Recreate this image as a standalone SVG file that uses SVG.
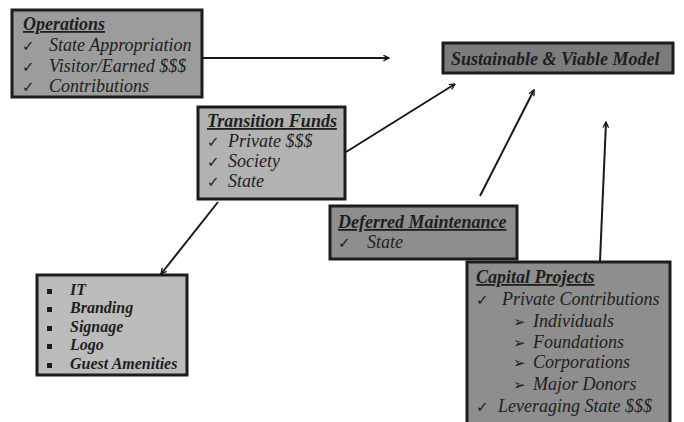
<svg xmlns="http://www.w3.org/2000/svg" width="684" height="422" viewBox="0 0 684 422">
<defs>
<marker id="ah" viewBox="0 0 10 10" refX="9" refY="5" markerWidth="7" markerHeight="7" orient="auto" markerUnits="userSpaceOnUse">
<path d="M1,1 L9,5 L1,9" fill="none" stroke="#1a1a1a" stroke-width="2"/>
</marker>
<style>
.box{stroke:#1c1c1c;stroke-width:3}
.t{font-family:"Liberation Serif","Times New Roman",serif;font-style:italic;font-size:18px;fill:#1e1e1e}
.h{font-weight:bold;text-decoration:underline}
.b{font-weight:bold}
.s16{font-size:16px}
.ck{font-family:"DejaVu Sans",sans-serif;font-size:15px;font-weight:bold;fill:#1e1e1e}
.conn line{stroke:#1a1a1a;stroke-width:2;marker-end:url(#ah)}
</style>
</defs>
<rect width="684" height="422" fill="#ffffff"/>
<g id="operations">
<rect class="box" x="12" y="10" width="190" height="87" fill="#9c9c9c"/>
<text class="t h" x="23" y="30">Operations</text>
<text class="ck" x="22" y="51">✓</text><text class="t" x="49" y="51">State Appropriation</text>
<text class="ck" x="22" y="72">✓</text><text class="t" x="49" y="72">Visitor/Earned $$$</text>
<text class="ck" x="22" y="92">✓</text><text class="t" x="49" y="92">Contributions</text>
</g>
<g id="transition">
<rect class="box" x="198" y="107" width="147" height="92" fill="#b2b2b2"/>
<text class="t h" x="207" y="127">Transition Funds</text>
<text class="ck" x="207" y="147">✓</text><text class="t" x="228" y="147">Private $$$</text>
<text class="ck" x="207" y="167">✓</text><text class="t" x="228" y="167">Society</text>
<text class="ck" x="207" y="187">✓</text><text class="t" x="228" y="187">State</text>
</g>
<g id="deferred">
<rect class="box" x="330" y="206" width="187" height="53" fill="#8e8e8e"/>
<text class="t h" x="338" y="228">Deferred Maintenance</text>
<text class="ck" x="338" y="248">✓</text><text class="t" x="367" y="248">State</text>
</g>
<g id="itlist">
<rect class="box" x="37" y="275" width="150" height="100" fill="#bcbcbc"/>
<rect x="47" y="289" width="5" height="5" fill="#1e1e1e"/><text class="t b s16" x="70" y="295">IT</text>
<rect x="47" y="307" width="5" height="5" fill="#1e1e1e"/><text class="t b s16" x="70" y="313">Branding</text>
<rect x="47" y="326" width="5" height="5" fill="#1e1e1e"/><text class="t b s16" x="70" y="332">Signage</text>
<rect x="47" y="344" width="5" height="5" fill="#1e1e1e"/><text class="t b s16" x="70" y="350">Logo</text>
<rect x="47" y="363" width="5" height="5" fill="#1e1e1e"/><text class="t b s16" x="70" y="369">Guest Amenities</text>
</g>
<g id="capital">
<rect class="box" x="467" y="262" width="203" height="164" fill="#8e8e8e"/>
<text class="t h" x="476" y="283">Capital Projects</text>
<text class="ck" x="476" y="305">✓</text><text class="t" x="502" y="305" font-size="19">Private Contributions</text>
<text class="ck" x="513" y="327">➢</text><text class="t" x="533" y="327">Individuals</text>
<text class="ck" x="513" y="348">➢</text><text class="t" x="533" y="348">Foundations</text>
<text class="ck" x="513" y="368">➢</text><text class="t" x="533" y="368">Corporations</text>
<text class="ck" x="513" y="390">➢</text><text class="t" x="533" y="390">Major Donors</text>
<text class="ck" x="476" y="412">✓</text><text class="t" x="498" y="412">Leveraging State $$$</text>
</g>
<g id="sustainable">
<rect class="box" x="443" y="43" width="230" height="30" fill="#7c7c7c"/>
<text class="t b" x="451" y="65" fill="#333">Sustainable &amp; Viable Model</text>
</g>
<g id="connectors" class="conn">
<line x1="203" y1="58" x2="389" y2="58"/>
<line x1="346" y1="152" x2="455" y2="84"/>
<line x1="480" y1="196" x2="534" y2="90"/>
<line x1="600" y1="261" x2="606" y2="122"/>
<line x1="218" y1="202" x2="161" y2="274"/>
</g>
</svg>
